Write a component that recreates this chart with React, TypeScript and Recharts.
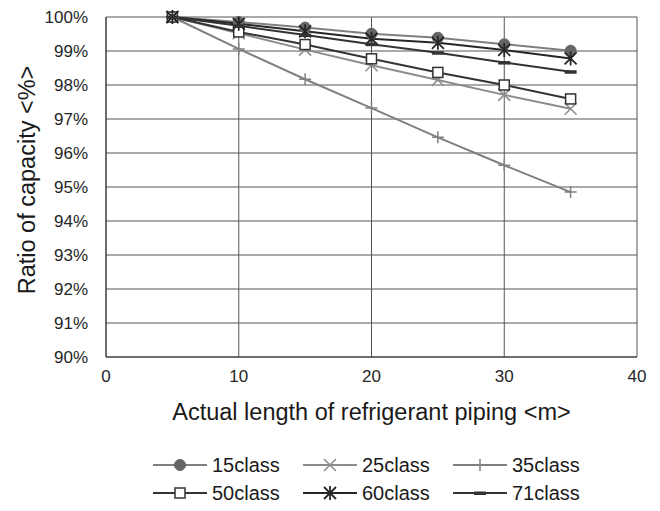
import React from "react";
import { LineChart, Line, XAxis, YAxis, CartesianGrid, Legend, Label } from "recharts";

const lengths = [5, 10, 15, 20, 25, 30, 35];
const class15 = [100, 99.85, 99.69, 99.51, 99.39, 99.2, 99.01];
const class25 = [100, 99.52, 99.04, 98.58, 98.15, 97.71, 97.3];
const class35 = [100, 99.06, 98.17, 97.32, 96.46, 95.64, 94.85];
const class50 = [100, 99.56, 99.19, 98.77, 98.37, 98.0, 97.59];
const class60 = [100, 99.8, 99.58, 99.36, 99.24, 99.03, 98.78];
const class71 = [100, 99.74, 99.47, 99.2, 98.95, 98.66, 98.39];
const xTicks = [0, 10, 20, 30, 40];
const yTicks = [90, 91, 92, 93, 94, 95, 96, 97, 98, 99, 100];

const data = lengths.map((len, i) => ({
  len,
  c15: class15[i],
  c25: class25[i],
  c35: class35[i],
  c50: class50[i],
  c60: class60[i],
  c71: class71[i],
}));

const FONT = "Liberation Sans, Arial, sans-serif";

type Marker = "circle" | "cross" | "plus" | "square" | "star" | "dash";

function MarkerShape({ kind, cx, cy, color }: { kind: Marker; cx: number; cy: number; color: string }) {
  const s = 6;
  switch (kind) {
    case "circle":
      return <circle cx={cx} cy={cy} r={5.5} fill="#666" stroke="#666" />;
    case "cross":
      return (
        <path
          d={`M${cx - s},${cy - s}L${cx + s},${cy + s}M${cx - s},${cy + s}L${cx + s},${cy - s}`}
          stroke={color}
          strokeWidth={1.5}
        />
      );
    case "plus":
      return (
        <path d={`M${cx - s},${cy}L${cx + s},${cy}M${cx},${cy - s}L${cx},${cy + s}`} stroke={color} strokeWidth={1.5} />
      );
    case "square":
      return <rect x={cx - 5} y={cy - 5} width={10} height={10} fill="#fff" stroke={color} strokeWidth={1.5} />;
    case "star":
      return (
        <path
          d={`M${cx - s},${cy - s}L${cx + s},${cy + s}M${cx - s},${cy + s}L${cx + s},${cy - s}M${cx},${cy - s - 1}L${cx},${cy + s + 1}`}
          stroke={color}
          strokeWidth={1.8}
        />
      );
    case "dash":
      return <rect x={cx - 6} y={cy - 1.5} width={12} height={3.5} fill={color} />;
  }
  return null;
}

const series: { key: string; name: string; color: string; marker: Marker }[] = [
  { key: "c15", name: "15class", color: "#7f7f7f", marker: "circle" },
  { key: "c25", name: "25class", color: "#8c8c8c", marker: "cross" },
  { key: "c35", name: "35class", color: "#808080", marker: "plus" },
  { key: "c50", name: "50class", color: "#333333", marker: "square" },
  { key: "c60", name: "60class", color: "#262626", marker: "star" },
  { key: "c71", name: "71class", color: "#333333", marker: "dash" },
];

function LegendBox() {
  const rows = [series.slice(0, 3), series.slice(3, 6)];
  return (
    <div style={{ height: 84, paddingTop: 24, boxSizing: "border-box", fontFamily: FONT }}>
      {rows.map((row, r) => (
        <div key={r} style={{ display: "flex", height: 28, alignItems: "center", paddingLeft: 143 }}>
          {row.map((s) => (
            <div key={s.key} style={{ display: "flex", alignItems: "center", width: 150 }}>
              <svg width={54} height={20}>
                <line x1={0} y1={10} x2={54} y2={10} stroke={s.color} strokeWidth={2} />
                <MarkerShape kind={s.marker} cx={27} cy={10} color={s.color} />
              </svg>
              <span style={{ fontSize: 20, color: "#1a1a1a", marginLeft: 5, lineHeight: "28px" }}>{s.name}</span>
            </div>
          ))}
        </div>
      ))}
    </div>
  );
}

export default function App() {
  return (
    <div style={{ position: "absolute", left: 0, top: 0, width: 660, height: 511, background: "#fff" }}>
      <LineChart
        width={660}
        height={511}
        data={data}
        margin={{ top: 17, right: 23, left: 10, bottom: 0 }}
        style={{ fontFamily: FONT }}
      >
        <CartesianGrid stroke="#555" strokeWidth={1} />
        <XAxis
          dataKey="len"
          type="number"
          domain={[0, 40]}
          ticks={xTicks}
          height={70}
          tickSize={0}
          tickMargin={13}
          axisLine={{ stroke: "#333" }}
          tick={{ fill: "#262626", fontSize: 17 }}
        >
          <Label
            value="Actual length of refrigerant piping <m>"
            position="insideBottom"
            offset={7}
            style={{ fill: "#1a1a1a", fontSize: 23.5 }}
          />
        </XAxis>
        <YAxis
          type="number"
          domain={[90, 100]}
          ticks={yTicks}
          width={96}
          tickSize={0}
          tickMargin={18}
          axisLine={{ stroke: "#333" }}
          tick={{ fill: "#262626", fontSize: 17 }}
          tickFormatter={(v: number) => `${v}%`}
        >
          <Label
            content={() => (
              <text
                x={27}
                y={180}
                transform="rotate(-90 27 180)"
                textAnchor="middle"
                dominantBaseline="central"
                style={{ fill: "#1a1a1a", fontSize: 23.5 }}
              >
                {"Ratio of capacity <%>"}
              </text>
            )}
          />
        </YAxis>
        <Legend verticalAlign="bottom" content={() => <LegendBox />} />
        {series.map((s) => (
          <Line
            key={s.key}
            dataKey={s.key}
            name={s.name}
            stroke={s.color}
            strokeWidth={2}
            isAnimationActive={false}
            dot={(p: any) => (
              <MarkerShape key={`${s.key}-${p.index}`} kind={s.marker} cx={p.cx} cy={p.cy} color={s.color} />
            )}
            activeDot={false}
          />
        ))}
      </LineChart>
    </div>
  );
}
